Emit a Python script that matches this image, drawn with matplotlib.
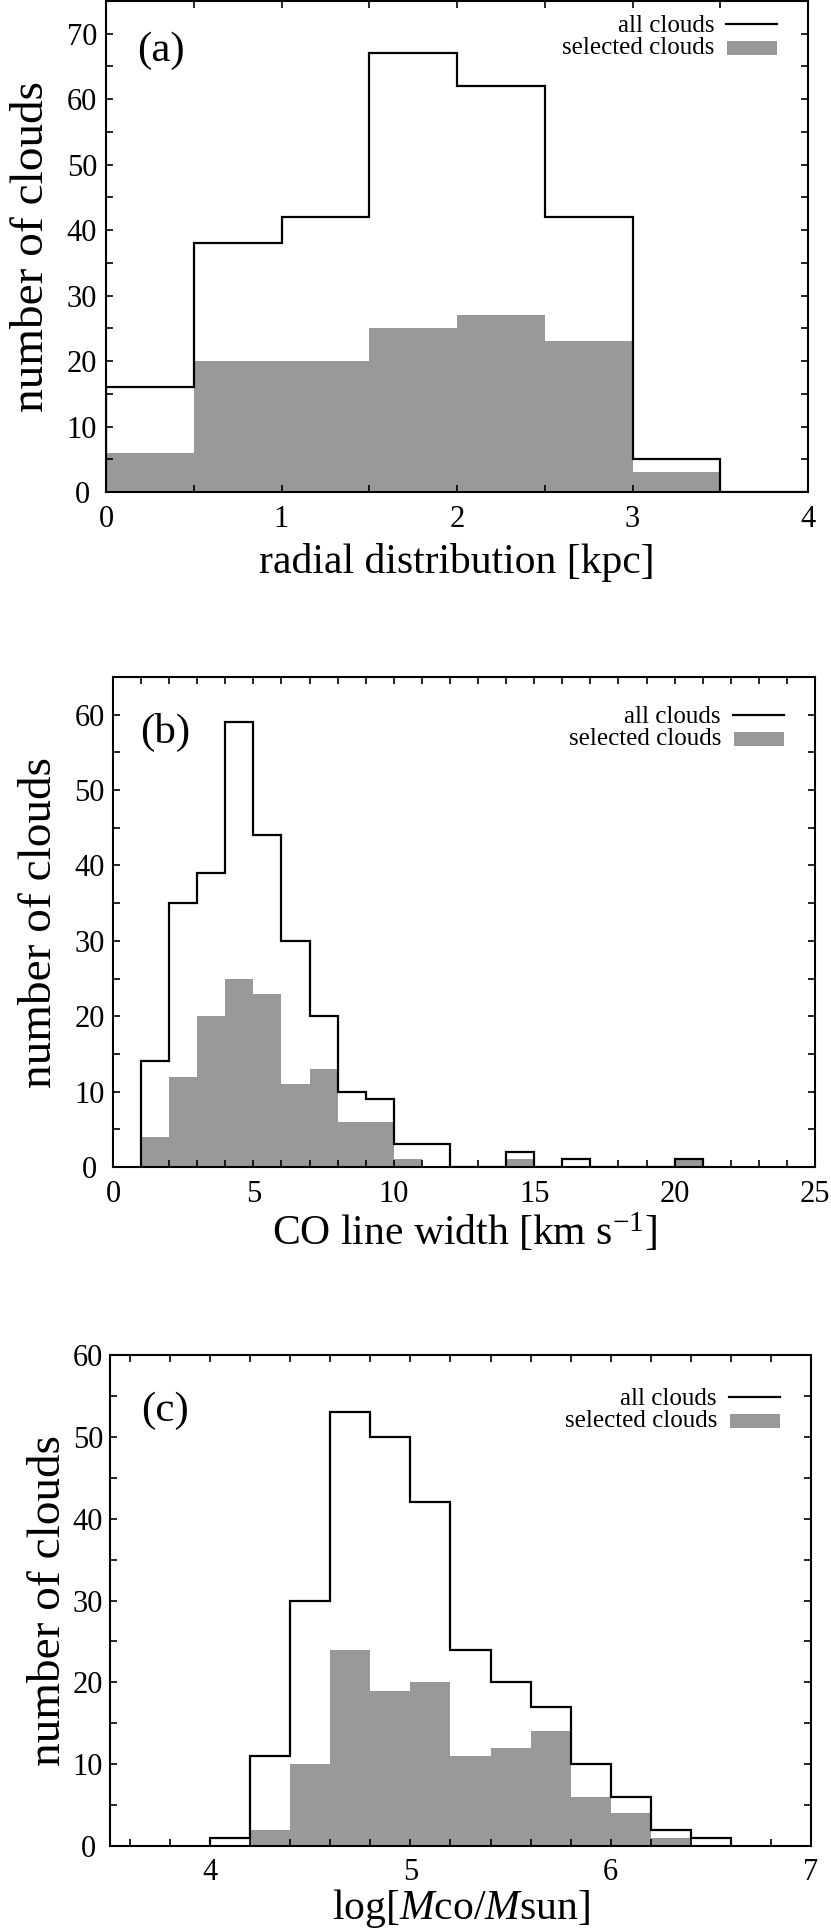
import numpy as np
import matplotlib
matplotlib.use("Agg")
from matplotlib import pyplot as plt
from matplotlib.patches import Rectangle
from matplotlib.lines import Line2D

plt.rcParams['font.family'] = ['Liberation Serif', 'DejaVu Serif']
plt.rcParams['mathtext.fontset'] = 'custom'
plt.rcParams['mathtext.rm'] = 'Liberation Serif'
plt.rcParams['mathtext.it'] = 'Liberation Serif:italic'

GRAY = '#999999'

# (a) radial distribution, bins of 0.5 kpc
radial_edges = [0.0, 0.5, 1.0, 1.5, 2.0, 2.5, 3.0, 3.5, 4.0]
radial_all = [16, 38, 42, 67, 62, 42, 5, 0]
radial_sel = [6, 20, 20, 25, 27, 23, 3, 0]

# (b) CO line width, bins of 1 km/s from 1 to 21
width_edges = list(range(1, 22))
width_all = [14, 35, 39, 59, 44, 30, 20, 10, 9, 3, 3, 0, 0, 2, 0, 1, 0, 0, 0, 1]
width_sel = [4, 12, 20, 25, 23, 11, 13, 6, 6, 1, 0, 0, 0, 1, 0, 0, 0, 0, 0, 1]

# (c) log CO mass, bins of 0.2 dex
mass_edges = [4.0, 4.2, 4.4, 4.6, 4.8, 5.0, 5.2, 5.4, 5.6, 5.8, 6.0, 6.2, 6.4, 6.6]
mass_all = [1, 11, 30, 53, 50, 42, 24, 20, 17, 10, 6, 2, 1]
mass_sel = [0, 2, 10, 24, 19, 20, 11, 12, 14, 6, 4, 1, 0]

W, H = 831, 1930
fig = plt.figure(figsize=(W / 100, H / 100), dpi=100)


def panel(box, edges, all_counts, sel_counts, xlim, ylim, xmajor, xminor, ymajor, yminor,
          xlabel, tag, legend_off, tag_pos, xlabel_drop, ylabel_gap, ytick_gap):
    L, R, T, B = box
    wpx, hpx = R - L, B - T
    ax = fig.add_axes([L / W, 1 - B / H, wpx / W, hpx / H])

    ax.stairs(sel_counts, edges, fill=True, color=GRAY, linewidth=0, zorder=1)
    ax.stairs(all_counts, edges, baseline=0, color='k', linewidth=1.6, zorder=2)

    ax.set_xlim(*xlim)
    ax.set_ylim(*ylim)
    ax.set_xticks(xmajor)
    ax.set_xticks(xminor, minor=True)
    ax.set_yticks(ymajor)
    ax.set_yticks(yminor, minor=True)
    ax.set_xticklabels([f"{v:g}" for v in xmajor])
    ax.set_yticklabels([f"{v:g}" for v in ymajor])
    ax.tick_params(which='both', direction='in', top=True, right=True, length=5, width=1.2)
    ax.tick_params(axis='x', labelsize=22, pad=9)
    ax.tick_params(axis='y', labelsize=22, pad=ytick_gap * 0.72)
    for lab in ax.get_yticklabels():
        lab.set_horizontalalignment('center')
    for s in ax.spines.values():
        s.set_linewidth(1.5)

    ax.set_xlabel(xlabel, fontsize=30, va='baseline')
    ax.xaxis.set_label_coords(0.5, -xlabel_drop / hpx)
    ax.set_ylabel('number of clouds', fontsize=34, va='baseline')
    ax.yaxis.set_label_coords(-ylabel_gap / wpx, 0.5)

    # panel tag
    ax.text(tag_pos[0] / wpx, 1 - tag_pos[1] / hpx, tag, transform=ax.transAxes,
            fontsize=31, ha='left', va='top')

    # key, placed from the top-right corner in pixels
    def fx(d):
        return 1 - d / wpx

    def fy(d):
        return 1 - (d + legend_off) / hpx

    ax.add_line(Line2D([fx(82), fx(31)], [fy(23), fy(23)], color='k', lw=1.6,
                       transform=ax.transAxes))
    ax.add_patch(Rectangle((fx(81), fy(54)), 50 / wpx, 14 / hpx, color=GRAY,
                           transform=ax.transAxes, lw=0))
    ax.text(fx(94), fy(31), 'all clouds', transform=ax.transAxes, fontsize=18,
            ha='right', va='baseline')
    ax.text(fx(94), fy(53), 'selected clouds', transform=ax.transAxes, fontsize=18,
            ha='right', va='baseline')
    return ax


panel((106, 808, 1, 492), radial_edges, radial_all, radial_sel,
      (0, 4), (0, 75), [0, 1, 2, 3, 4], [0.5, 1.5, 2.5, 3.5],
      [0, 10, 20, 30, 40, 50, 60, 70], [5, 15, 25, 35, 45, 55, 65, 75],
      'radial distribution [kpc]', '(a)', 0, (31, 30), 81, 63, 24)

panel((113, 815, 677, 1167), width_edges, width_all, width_sel,
      (0, 25), (0, 65), [0, 5, 10, 15, 20, 25], [v for v in range(1, 25) if v % 5],
      [0, 10, 20, 30, 40, 50, 60], [5, 15, 25, 35, 45, 55, 65],
      r'CO line width [km $\mathrm{s}^{\mathrm{-1}}$]', '(b)', 15, (27, 36), 78, 62, 23.5)

panel((110, 811, 1355, 1846), mass_edges, mass_all, mass_sel,
      (3.5, 7), (0, 60), [4, 5, 6, 7],
      [3.6, 3.8, 4.2, 4.4, 4.6, 4.8, 5.2, 5.4, 5.6, 5.8, 6.2, 6.4, 6.6, 6.8],
      [0, 10, 20, 30, 40, 50, 60], [5, 15, 25, 35, 45, 55],
      r'log[$\mathit{M}$co/$\mathit{M}$sun]', '(c)', 19, (31, 37), 73, 50, 22)

fig.savefig('out.png', dpi=100)
